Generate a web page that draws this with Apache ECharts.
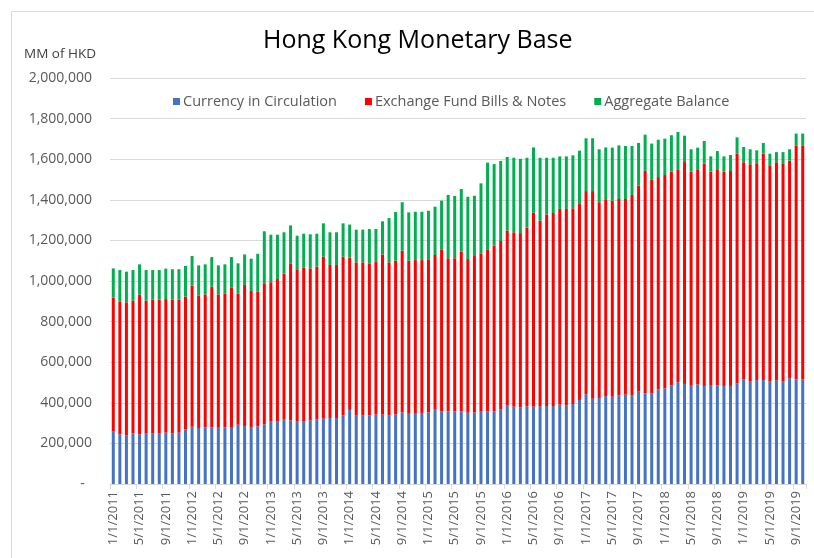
<!DOCTYPE html>
<html>
<head>
<meta charset="utf-8">
<script src="https://cdn.jsdelivr.net/npm/echarts@6/dist/echarts.min.js"></script>
<style>
html,body{margin:0;padding:0;background:#fff;}
#chart{width:814px;height:558px;}
</style>
</head>
<body>
<div id="chart"></div>
<script>
// Monthly categories, Jan 2011 .. Oct 2019
const startYear = 2011;
const monthCount = 106;
const categories = [];
for (let i = 0; i < monthCount; i++) {
  const y = startYear + Math.floor(i / 12);
  const m = (i % 12) + 1;
  categories.push(m + '/1/' + y);
}

// Values in thousands of MM HKD
const currencyInCirculation = [
  258,245,240,250,245,248,250,248,253,250,253,269,
  282,276,279,279,277,279,277,292,286,281,284,294,
  307,307,320,314,310,310,314,319,322,325,325,337,
  365,337,337,338,342,342,337,343,353,346,346,350,
  353,369,358,358,358,358,351,353,356,358,358,368,
  389,381,378,383,381,384,384,384,391,388,394,414,
  442,420,424,433,430,437,440,438,455,447,447,466,
  471,486,501,493,484,491,483,484,486,483,483,496,
  516,507,512,512,504,511,507,521,516,516
];
const exchangeFundBillsNotes = [
  660,655,655,653,688,655,658,660,658,658,655,654,
  695,653,654,693,657,660,692,647,694,670,665,695,
  687,703,716,773,748,757,748,751,798,754,754,783,
  750,755,755,749,755,789,755,757,796,754,757,753,
  754,759,798,754,754,786,757,770,780,798,816,829,
  859,859,858,880,956,913,944,951,964,967,964,965,
  1001,1023,964,966,966,967,964,986,1015,1096,1051,1046,
  1051,1053,1049,1093,1055,1056,1095,1055,1061,1056,1059,1131,
  1069,1068,1068,1115,1066,1074,1073,1072,1152,1152
];
const aggregateBalance = [
  144,154,151,151,149,151,146,146,150,150,150,151,
  146,148,149,146,143,143,149,148,151,159,185,256,
  234,218,204,187,165,166,168,163,164,161,161,164,
  163,161,161,169,159,163,218,240,239,238,238,238,
  239,238,240,312,307,309,307,297,345,427,402,394,
  363,367,366,344,321,310,279,272,259,259,261,263,
  260,260,261,259,261,264,261,241,210,178,179,184,
  179,179,184,130,110,110,112,75,93,75,79,81,
  75,74,64,53,57,50,55,56,58,58
];

const seriesNames = ['Currency in Circulation', 'Exchange Fund Bills & Notes', 'Aggregate Balance'];
const seriesColors = ['#4472C4', '#FF0000', '#00B050'];
const unitScale = 1000;

const FONT = '"Open Sans", Lato, sans-serif';
const chart = echarts.init(document.getElementById('chart'), null, {renderer: 'canvas'});

const toAxis = arr => arr.map(v => v * unitScale);
const dataSets = [currencyInCirculation, exchangeFundBillsNotes, aggregateBalance];

chart.setOption({
  backgroundColor: '#fff',
  animation: false,
  textStyle: {fontFamily: FONT},
  title: {
    text: 'Hong Kong Monetary Base',
    left: 258,
    top: 23,
    textStyle: {fontSize: 25, fontWeight: 'normal', color: '#000', fontFamily: FONT}
  },
  graphic: [
    {type: 'rect', shape: {x: 11.5, y: 11.5, width: 900, height: 700},
     style: {fill: 'none', stroke: '#d9d9d9', lineWidth: 1}, silent: true, z: -1},
    {type: 'text', left: 24, top: 47,
     style: {text: 'MM of HKD', fontSize: 13.5, fill: '#404040', fontFamily: FONT}}
  ],
  legend: {
    data: seriesNames,
    left: 168,
    top: 89,
    icon: 'rect',
    itemWidth: 7,
    itemHeight: 7,
    itemGap: 28,
    textStyle: {fontSize: 14.5, color: '#595959', fontFamily: FONT, padding: [0,0,0,-2]}
  },
  grid: {left: 110, right: 8, top: 78, bottom: 74, containLabel: false},
  xAxis: {
    type: 'category',
    data: categories,
    boundaryGap: true,
    axisLine: {lineStyle: {color: '#d9d9d9'}},
    axisTick: {show: true, interval: 3, length: 5, alignWithLabel: false, lineStyle: {color: '#d9d9d9'}},
    axisLabel: {interval: 3, rotate: 90, fontSize: 13, color: '#595959', margin: 7, fontFamily: FONT}
  },
  yAxis: {
    type: 'value',
    min: 0,
    max: 2000000,
    interval: 200000,
    axisLine: {show: false},
    axisTick: {show: false},
    splitLine: {lineStyle: {color: '#d9d9d9'}},
    axisLabel: {
      fontSize: 14, color: '#595959', margin: 18, fontFamily: FONT,
      formatter: v => v === 0 ? '-  ' : v.toLocaleString('en-US')
    }
  },
  series: seriesNames.map((name, k) => ({
    name: name,
    type: 'bar',
    stack: 'total',
    barWidth: 3,
    itemStyle: {color: seriesColors[k]},
    data: toAxis(dataSets[k])
  }))
});
</script>
</body>
</html>
